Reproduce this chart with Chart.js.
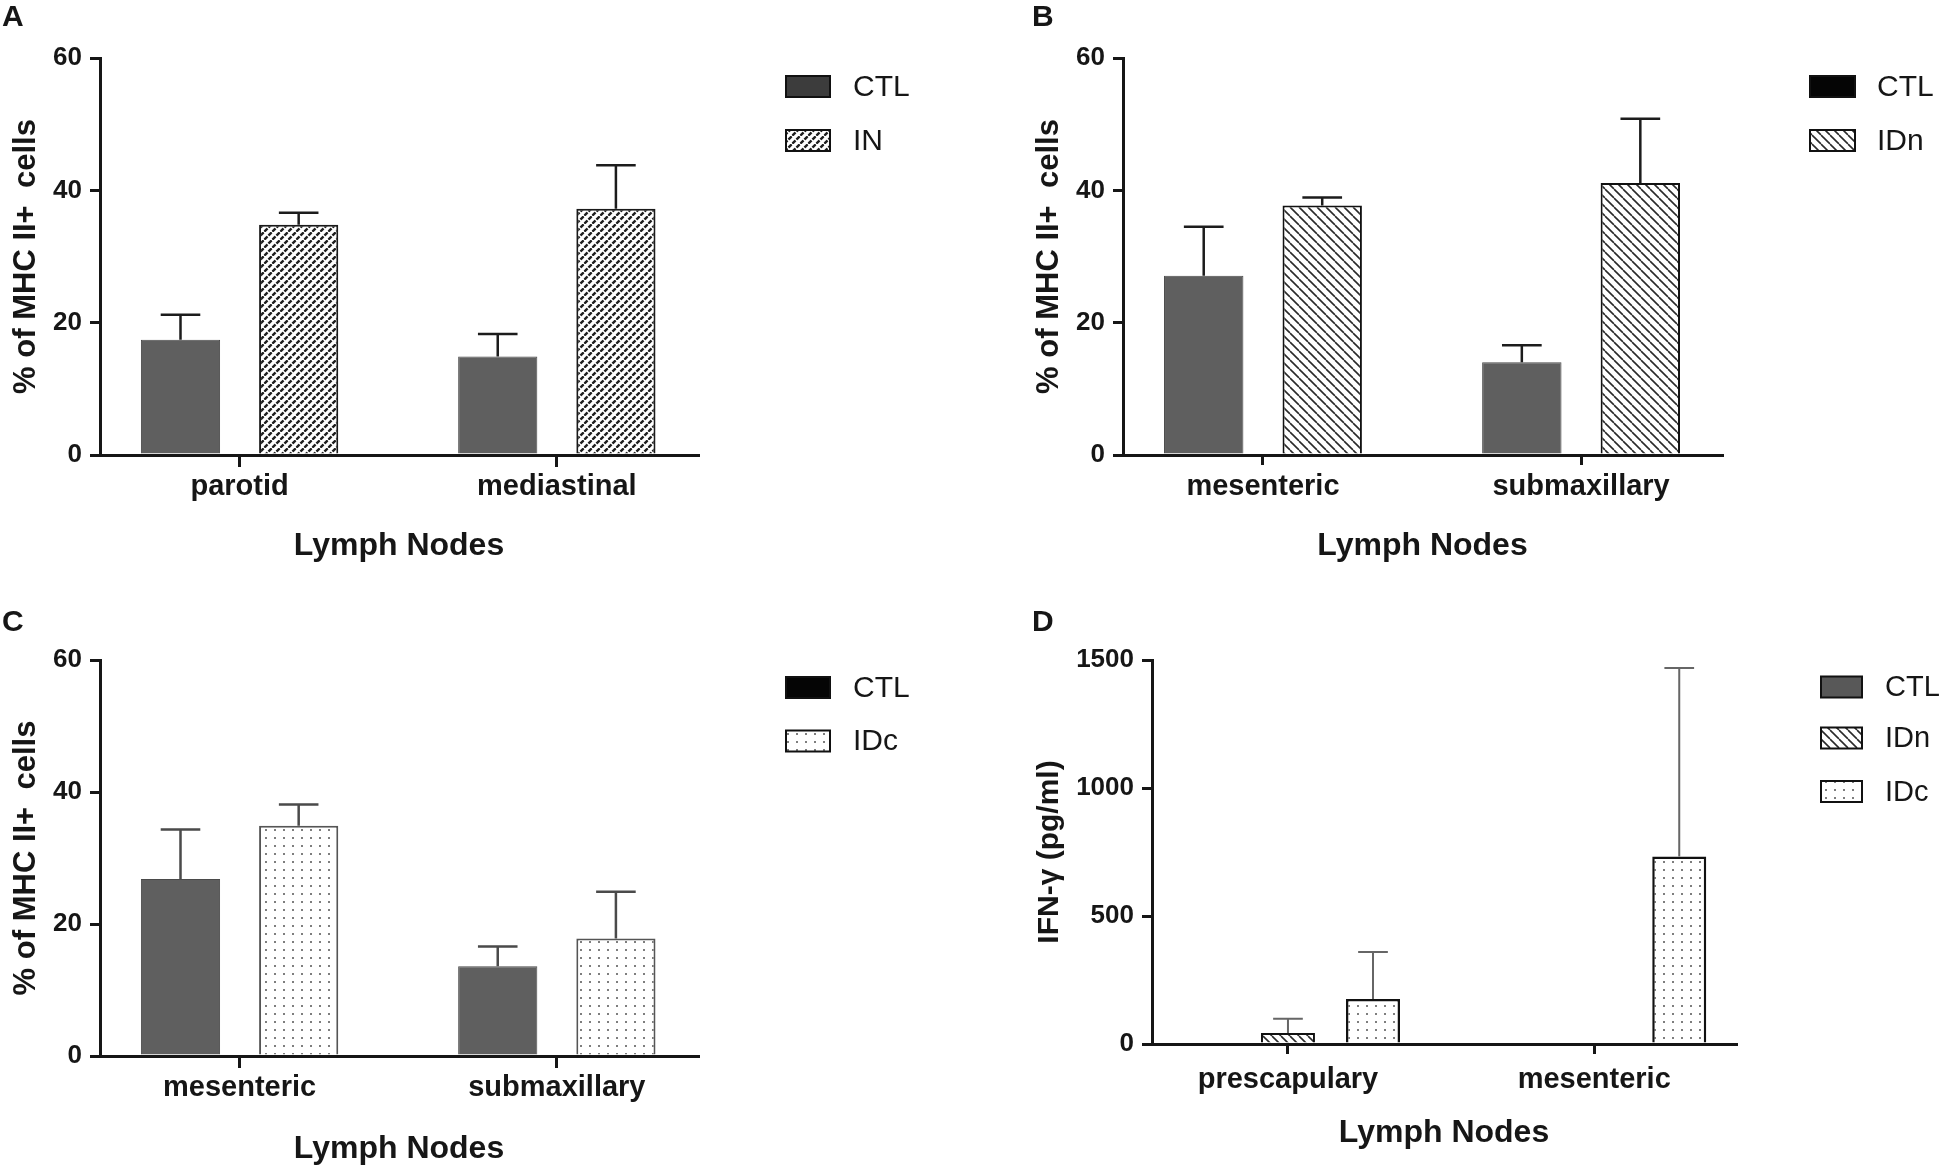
<!DOCTYPE html>
<html>
<head>
<meta charset="utf-8">
<title>MHC II+ cells and IFN-γ in lymph nodes</title>
<script src="https://cdn.jsdelivr.net/npm/chart.js@4.4.1/dist/chart.umd.min.js"></script>
<style>
  body { margin: 0; background: #fff; width: 1950px; height: 1173px; position: relative; overflow: hidden; }
  canvas { position: absolute; }
</style>
</head>
<body>
<canvas id="chartA" width="975" height="586" style="left:0;top:0"></canvas>
<canvas id="chartB" width="975" height="586" style="left:975px;top:0"></canvas>
<canvas id="chartC" width="975" height="587" style="left:0;top:586px"></canvas>
<canvas id="chartD" width="975" height="587" style="left:975px;top:586px"></canvas>
<script>
// values (bar = mean, err = upper error bar length)
const nodesA = ['parotid', 'mediastinal'];
const ctlA = [17.4, 14.9];
const ctlAErr = [3.8, 3.4];
const inA = [34.8, 37.2];
const inAErr = [1.8, 6.6];

const nodesB = ['mesenteric', 'submaxillary'];
const ctlB = [27.1, 14.0];
const ctlBErr = [7.4, 2.6];
const idnB = [37.7, 41.1];
const idnBErr = [1.2, 9.7];

const nodesC = ['mesenteric', 'submaxillary'];
const ctlC = [26.8, 13.6];
const ctlCErr = [7.5, 3.0];
const idcC = [34.9, 17.8];
const idcCErr = [3.2, 7.1];

const nodesD = ['prescapulary', 'mesenteric'];
const ctlD = [0, 0];
const ctlDErr = [0, 0];
const idnD = [43, 0];
const idnDErr = [56, 0];
const idcD = [176, 732];
const idcDErr = [183, 737];

const pctTicks = [0, 20, 40, 60];
const ifnTicks = [0, 500, 1000, 1500];

const ink = '#161616';
const fontFamily = '"Liberation Sans", Arial, Helvetica, sans-serif';
Chart.defaults.font.family = fontFamily;

// small tiles for the hatch fills
function tile(w, h, draw) {
    const t = document.createElement('canvas');
    t.width = w;
    t.height = h;
    const c = t.getContext('2d');
    c.fillStyle = '#fff';
    c.fillRect(0, 0, w, h);
    draw(c);
    return t;
}

const tiles = {
    chain: tile(8, 8, c => {
        c.strokeStyle = '#1e1e1e';
        c.lineWidth = 2.4;
        for (const o of [-8, 0, 8]) {
            c.beginPath(); c.moveTo(o, 8); c.lineTo(o + 8, 0); c.stroke();
        }
        c.strokeStyle = '#fff';
        c.lineWidth = 1.3;
        for (const o of [-8, 0, 8]) {
            c.beginPath(); c.moveTo(o, 0); c.lineTo(o + 8, 8); c.stroke();
        }
    }),
    stripe: tile(9, 9, c => {
        c.strokeStyle = '#2a2a2a';
        c.lineWidth = 1.6;
        for (const o of [-9, 0, 9]) {
            c.beginPath(); c.moveTo(o, 0); c.lineTo(o + 9, 9); c.stroke();
        }
    }),
    dots: tile(9, 8, c => {
        c.fillStyle = '#7e7e7e';
        c.fillRect(4, 3, 2, 2);
    })
};

// upper error bars with caps
const errorBars = {
    id: 'errorBars',
    afterDatasetsDraw(chart, args, o) {
        const ctx = chart.ctx;
        const y = chart.scales.y;
        ctx.save();
        ctx.strokeStyle = o.color;
        ctx.lineWidth = o.width;
        chart.data.datasets.forEach((ds, i) => {
            chart.getDatasetMeta(i).data.forEach((bar, j) => {
                const err = ds.errors[j];
                if (!err) return;
                const top = y.getPixelForValue(ds.data[j].y + err);
                const cap = bar.width * o.cap / 2;
                ctx.beginPath();
                ctx.moveTo(bar.x, bar.y);
                ctx.lineTo(bar.x, top);
                ctx.moveTo(bar.x - cap, top);
                ctx.lineTo(bar.x + cap, top);
                ctx.stroke();
            });
        });
        ctx.restore();
    }
};

// panel letter, axis titles and legend
const panelDecor = {
    id: 'panelDecor',
    afterDraw(chart, args, o) {
        const ctx = chart.ctx;
        const area = chart.chartArea;
        ctx.save();
        ctx.fillStyle = ink;
        ctx.textAlign = 'left';
        ctx.textBaseline = 'alphabetic';
        ctx.font = 'bold 30px ' + fontFamily;
        ctx.fillText(o.letter, o.letterX, o.letterY);

        ctx.textAlign = 'center';
        ctx.font = 'bold 32px ' + fontFamily;
        ctx.fillText(o.xTitle, (area.left + area.right) / 2, o.xTitleY);

        ctx.save();
        ctx.translate(o.yTitleX, (area.top + area.bottom) / 2);
        ctx.rotate(-Math.PI / 2);
        ctx.font = 'bold ' + o.yTitleSize + 'px ' + fontFamily;
        ctx.fillText(o.yTitle, 0, 0);
        ctx.restore();

        ctx.textAlign = 'left';
        ctx.textBaseline = 'middle';
        ctx.font = o.legendFont + 'px ' + fontFamily;
        chart.data.datasets.forEach((ds, i) => {
            const cy = o.legendY[i];
            ctx.fillStyle = o.legendFills[i] || ds.backgroundColor;
            ctx.fillRect(o.legendX, cy - 10.5, o.legendW, 21);
            ctx.strokeStyle = '#111';
            ctx.lineWidth = 2;
            ctx.strokeRect(o.legendX, cy - 10.5, o.legendW, 21);
            ctx.fillStyle = ink;
            ctx.fillText(ds.label, o.legendTextX, cy + 1);
        });
        ctx.restore();
    }
};

function drawPanel(id, p) {
    const canvas = document.getElementById(id);
    const ctx = canvas.getContext('2d');
    const W = canvas.width;
    const H = canvas.height;
    const datasets = p.series.map(s => ({
        label: s.label,
        data: p.categories.map((c, i) => ({ x: i, y: s.values[i] })),
        errors: s.errors,
        backgroundColor: tiles[s.fill] ? ctx.createPattern(tiles[s.fill], 'repeat') : s.fill,
        borderColor: s.border,
        borderWidth: s.borderWidth
    }));
    return new Chart(ctx, {
        type: 'bar',
        data: { datasets },
        options: {
            responsive: false,
            animation: false,
            devicePixelRatio: 1,
            categoryPercentage: p.catPct,
            barPercentage: p.barPct,
            layout: { padding: { left: 0, top: p.area.top, right: W - p.area.right, bottom: 0 } },
            plugins: {
                legend: { display: false },
                tooltip: { enabled: false },
                errorBars: p.errorStyle,
                panelDecor: p.decor
            },
            scales: {
                x: {
                    type: 'linear',
                    bounds: 'data',
                    offset: false,
                    min: p.xRange[0],
                    max: p.xRange[1],
                    afterBuildTicks: s => { s.ticks = p.categories.map((c, i) => ({ value: i })); },
                    afterFit: s => { s.height = H - p.area.bottom; },
                    ticks: {
                        autoSkip: false,
                        maxRotation: 0,
                        padding: p.xPad,
                        color: ink,
                        font: { size: 29, weight: 'bold' },
                        callback: v => p.categories[v]
                    },
                    grid: { offset: false, drawOnChartArea: false, tickLength: p.xTick, color: ink, lineWidth: 3 },
                    border: { color: ink, width: 3 }
                },
                y: {
                    min: 0,
                    max: p.yTicks[p.yTicks.length - 1],
                    afterBuildTicks: s => { s.ticks = p.yTicks.map(v => ({ value: v })); },
                    afterFit: s => { s.width = p.area.left; },
                    ticks: { padding: 8, color: ink, font: { size: 26, weight: 'bold' }, callback: v => String(v) },
                    grid: { drawOnChartArea: false, tickLength: 10, color: ink, lineWidth: 3 },
                    border: { color: ink, width: 3 }
                }
            }
        },
        plugins: [errorBars, panelDecor]
    });
}

const ctlStyle = { fill: '#5f5f5f', border: '#4a4a4a', borderWidth: 1 };

drawPanel('chartA', {
    categories: nodesA,
    series: [
        { label: 'CTL', values: ctlA, errors: ctlAErr, ...ctlStyle },
        { label: 'IN', values: inA, errors: inAErr, fill: 'chain', border: '#1a1a1a', borderWidth: 2 }
    ],
    area: { left: 100, right: 698, top: 58, bottom: 455 },
    xRange: [-0.44, 1.445],
    catPct: 0.745, barPct: 0.67,
    xTick: 12, xPad: 3,
    yTicks: pctTicks,
    errorStyle: { color: '#1c1c1c', width: 2.5, cap: 0.5 },
    decor: {
        letter: 'A', letterX: 2, letterY: 26,
        yTitle: '% of MHC II+  cells', yTitleX: 35, yTitleSize: 31,
        xTitle: 'Lymph Nodes', xTitleY: 555,
        legendX: 786, legendW: 44, legendTextX: 853, legendY: [86.5, 140.5], legendFont: 30,
        legendFills: ['#3c3c3c', null]
    }
});

drawPanel('chartB', {
    categories: nodesB,
    series: [
        { label: 'CTL', values: ctlB, errors: ctlBErr, ...ctlStyle },
        { label: 'IDn', values: idnB, errors: idnBErr, fill: 'stripe', border: '#111', borderWidth: 2 }
    ],
    area: { left: 148, right: 747, top: 58, bottom: 455 },
    xRange: [-0.44, 1.443],
    catPct: 0.745, barPct: 0.67,
    xTick: 10, xPad: 5,
    yTicks: pctTicks,
    errorStyle: { color: '#1c1c1c', width: 2.5, cap: 0.5 },
    decor: {
        letter: 'B', letterX: 57, letterY: 26,
        yTitle: '% of MHC II+  cells', yTitleX: 83, yTitleSize: 31,
        xTitle: 'Lymph Nodes', xTitleY: 555,
        legendX: 835, legendW: 45, legendTextX: 902, legendY: [86.5, 140.5], legendFont: 30,
        legendFills: ['#050505', null]
    }
});

drawPanel('chartC', {
    categories: nodesC,
    series: [
        { label: 'CTL', values: ctlC, errors: ctlCErr, ...ctlStyle },
        { label: 'IDc', values: idcC, errors: idcCErr, fill: 'dots', border: '#555', borderWidth: 2 }
    ],
    area: { left: 100, right: 698, top: 74, bottom: 470 },
    xRange: [-0.44, 1.445],
    catPct: 0.745, barPct: 0.67,
    xTick: 12, xPad: 3,
    yTicks: pctTicks,
    errorStyle: { color: '#4a4a4a', width: 2.5, cap: 0.5 },
    decor: {
        letter: 'C', letterX: 2, letterY: 45,
        yTitle: '% of MHC II+  cells', yTitleX: 35, yTitleSize: 31,
        xTitle: 'Lymph Nodes', xTitleY: 572,
        legendX: 786, legendW: 44, legendTextX: 853, legendY: [101.5, 155], legendFont: 30,
        legendFills: ['#050505', null]
    }
});

drawPanel('chartD', {
    categories: nodesD,
    series: [
        { label: 'CTL', values: ctlD, errors: ctlDErr, ...ctlStyle },
        { label: 'IDn', values: idnD, errors: idnDErr, fill: 'stripe', border: '#111', borderWidth: 2 },
        { label: 'IDc', values: idcD, errors: idcDErr, fill: 'dots', border: '#111', borderWidth: 2.5 }
    ],
    area: { left: 177, right: 761, top: 74, bottom: 458 },
    xRange: [-0.444, 1.463],
    catPct: 0.833, barPct: 0.635,
    xTick: 10, xPad: 9,
    yTicks: ifnTicks,
    errorStyle: { color: '#666', width: 2, cap: 0.55 },
    decor: {
        letter: 'D', letterX: 57, letterY: 45,
        yTitle: 'IFN-γ (pg/ml)', yTitleX: 83, yTitleSize: 30,
        xTitle: 'Lymph Nodes', xTitleY: 556,
        legendX: 846, legendW: 41, legendTextX: 910, legendY: [101, 152, 205.5], legendFont: 29,
        legendFills: ['#585858', null, null]
    }
});
</script>
</body>
</html>
